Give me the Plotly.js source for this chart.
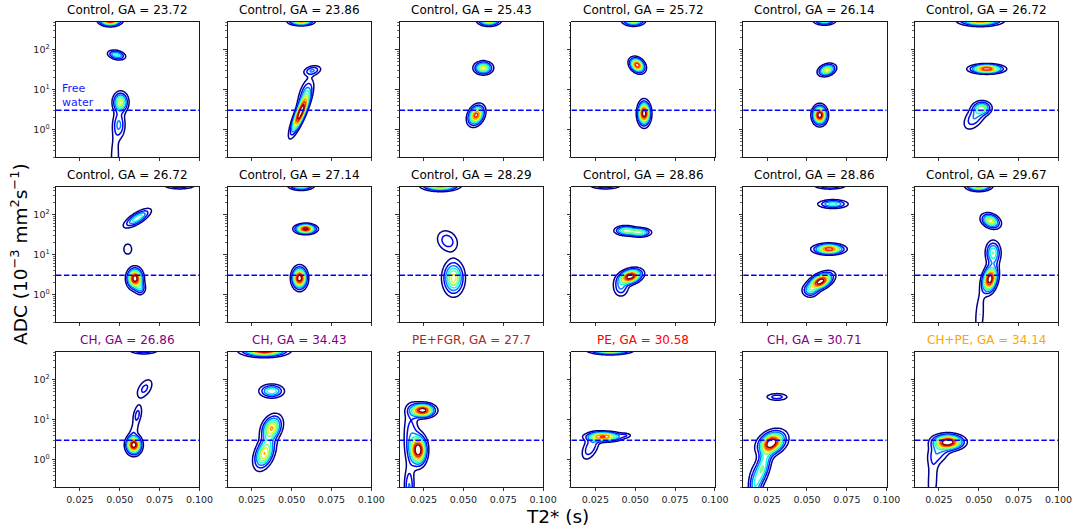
<!DOCTYPE html>
<html>
<head>
<meta charset="utf-8">
<script src="https://cdn.plot.ly/plotly-3.0.1.min.js"></script>
<style>html,body{margin:0;padding:0;background:#fff;}#chart{width:1083px;height:531px;}</style>
</head>
<body>
<div id="chart"></div>
<script>
// ---------- Data ----------
const panelTitles = [
  "Control, GA = 23.72","Control, GA = 23.86","Control, GA = 25.43","Control, GA = 25.72","Control, GA = 26.14","Control, GA = 26.72",
  "Control, GA = 26.72","Control, GA = 27.14","Control, GA = 28.29","Control, GA = 28.86","Control, GA = 28.86","Control, GA = 29.67",
  "CH, GA = 26.86","CH, GA = 34.43","PE+FGR, GA = 27.7","PE, GA = 30.58","CH, GA = 30.71","CH+PE, GA = 34.14"
];
const panelTitleColors = [
  "#000000","#000000","#000000","#000000","#000000","#000000",
  "#000000","#000000","#000000","#000000","#000000","#000000",
  "#800080","#800080","#a52a2a","#ff0000","#800080","#ffa500"
];
const freeWaterADC = 3;               // 10^-3 mm^2/s
const t2Range = [0.01, 0.1];          // s
const adcRange = [0.2, 500];
const t2Ticks = [0.025, 0.05, 0.075, 0.1];
const t2TickLabels = ["0.025", "0.050", "0.075", "0.100"];
const adcTicks = [1, 10, 100];
const adcTickLabels = ["10<sup>0</sup>", "10<sup>1</sup>", "10<sup>2</sup>"];
const adcMinorTicks = [0.2,0.3,0.4,0.5,0.6,0.7,0.8,0.9,2,3,4,5,6,7,8,9,20,30,40,50,60,70,80,90,200,300,400,500];
const contourLevels = {start: 0.1, end: 0.9, size: 0.1};

// Spectral peaks (T2*-ADC components) estimated per panel
const peakPanel = [
  0,0,0,0,0,
  1,1,1,1,
  2,2,2,
  3,3,3,
  4,4,4,
  5,5,5,5,
  6,6,6,6,6,
  7,7,7,
  8,8,8,
  9,9,9,9,9,
  10,10,10,10,10,
  11,11,11,11,11,
  12,12,12,12,12,
  13,13,13,13,
  14,14,14,14,
  15,15,15,15,
  16,16,16,16,
  17,17,17
];
const peakT2 = [
  0.044,0.048,0.0505,0.0495,0.047,
  0.056,0.0555,0.0585,0.063,
  0.066,0.0625,0.058,
  0.049,0.0513,0.0556,
  0.061,0.0625,0.058,
  0.051,0.055,0.052,0.0475,
  0.0875,0.061,0.055,0.0595,0.063,
  0.056,0.0588,0.055,
  0.0356,0.040,0.0438,
  0.0313,0.044,0.053,0.047,0.041,
  0.0644,0.0663,0.0638,0.0585,0.052,
  0.050,0.0575,0.057,0.059,0.0505,
  0.065,0.0656,0.061,0.0588,0.059,
  0.033,0.0375,0.0375,0.0330,
  0.0244,0.0219,0.017,0.016,
  0.0344,0.0305,0.022,0.044,
  0.0312,0.028,0.022,0.017,
  0.031,0.021,0.025
];
const peakADC = [
  557,74,4.8,1.3,0.2,
  525,2.5,8,30,
  557,35,2.25,
  557,41,2.5,
  557,31,2.27,
  557,33,3.4,2.0,
  557,82,13.7,2.5,1.4,
  557,44,2.55,
  557,22,2.55,
  557,40,36,2.8,1.5,
  557,186,13.7,2.1,1.2,
  557,70,2.4,11,0.3,
  557,60,13,2.3,5.5,
  557,52,6.1,1.4,
  17,1.7,4,0.2,
  557,3.7,2.0,4.0,
  37,2.6,0.6,0.2,
  2.7,0.3,1.5
];
const peakSdT2 = [
  0.0039,0.0033,0.0028,0.0025,0.002,
  0.0045,0.0035,0.003,0.0035,
  0.004,0.0034,0.003,
  0.004,0.0028,0.0023,
  0.004,0.0032,0.0026,
  0.0075,0.006,0.0035,0.0045,
  0.006,0.005,0.0025,0.0028,0.002,
  0.0045,0.0038,0.0027,
  0.0065,0.0044,0.0039,
  0.006,0.004,0.004,0.0042,0.003,
  0.006,0.0055,0.0055,0.0045,0.003,
  0.0045,0.0035,0.0028,0.0028,0.002,
  0.0055,0.0035,0.002,0.0028,0.002,
  0.008,0.0045,0.0038,0.0038,
  0.0045,0.003,0.003,0.002,
  0.0075,0.0065,0.0035,0.0025,
  0.0045,0.005,0.0035,0.0025,
  0.0055,0.0025,0.0045
];
const peakSdLogADC = [
  0.08,0.073,0.15,0.22,0.4,
  0.06,0.3,0.25,0.08,
  0.08,0.095,0.15,
  0.08,0.11,0.176,
  0.07,0.09,0.14,
  0.08,0.066,0.1,0.2,
  0.06,0.14,0.13,0.15,0.1,
  0.07,0.07,0.16,
  0.08,0.18,0.25,
  0.06,0.07,0.065,0.11,0.15,
  0.06,0.065,0.075,0.13,0.1,
  0.08,0.11,0.2,0.18,0.4,
  0.06,0.17,0.18,0.14,0.12,
  0.09,0.1,0.19,0.23,
  0.1,0.22,0.5,0.3,
  0.06,0.07,0.2,0.04,
  0.06,0.17,0.32,0.3,
  0.11,0.5,0.2
];
const peakRho = [
  0,-0.3,0,0,0,
  0,0.85,0.6,0.3,
  0,0,0.3,
  0,-0.3,0,
  0,0.3,0,
  0,0,0,0.5,
  0,0.75,0,0,0,
  0,0,0,
  0,-0.2,0,
  0,0,0,0.3,0,
  0,0,0,0.5,0,
  0,-0.3,0.3,0,0.3,
  0,0.5,0.4,0,0.3,
  0,0,0.3,0.4,
  0,0,0,0,
  0,0,0.5,0,
  0,0.3,0.6,0,
  0,0.2,0.3
];
const peakAmp = [
  1.0,0.45,0.62,0.32,0.18,
  0.75,1.0,0.3,0.3,
  0.75,0.65,0.85,
  0.7,0.88,1.0,
  0.55,0.65,1.0,
  0.85,0.9,0.45,0.3,
  0.35,0.48,0.16,1.0,0.3,
  0.65,0.95,1.0,
  0.85,0.27,0.65,
  0.35,0.55,0.55,1.0,0.3,
  0.4,0.45,0.88,1.0,0.3,
  0.85,0.65,1.0,0.5,0.2,
  0.35,0.23,0.24,1.0,0.12,
  1.0,0.5,0.7,0.7,
  1.0,1.0,0.25,0.3,
  0.75,0.8,0.3,0.14,
  0.26,1.0,0.5,0.25,
  1.0,0.17,0.25
];

// ---------- Figure construction ----------
const W = 1083, H = 531;
const colLeft0 = 56, colStep = 171.8, plotW = 143.5;
const rowTop0 = 22, rowStep = 165, plotH = 135;

// matplotlib "jet"
const jet = [
  [0, "rgb(0,0,128)"], [0.11, "rgb(0,0,255)"], [0.125, "rgb(0,0,255)"],
  [0.34, "rgb(0,219,255)"], [0.35, "rgb(0,229,246)"], [0.375, "rgb(20,255,226)"],
  [0.64, "rgb(238,255,8)"], [0.66, "rgb(255,236,0)"], [0.89, "rgb(255,19,0)"],
  [0.91, "rgb(232,0,0)"], [1, "rgb(128,0,0)"]
];

// grid
const gx = [], gly = [], gy = [];
for (let v = 0.0; v <= 0.1101; v += 0.0005) gx.push(+v.toFixed(5));
for (let v = -1.2; v <= 3.2001; v += 0.02) { gly.push(v); gy.push(Math.pow(10, v)); }

function panelZ(p) {
  const idx = [];
  for (let k = 0; k < peakPanel.length; k++) if (peakPanel[k] === p) idx.push(k);
  const z = [];
  for (let j = 0; j < gly.length; j++) {
    const row = new Array(gx.length).fill(0);
    for (const k of idx) {
      const cx = peakT2[k], cy = Math.log10(peakADC[k]);
      const sx = peakSdT2[k], sy = peakSdLogADC[k], r = peakRho[k], a = peakAmp[k];
      const dy = (gly[j] - cy) / sy;
      for (let i = 0; i < gx.length; i++) {
        const dx = (gx[i] - cx) / sx;
        const q = (dx * dx - 2 * r * dx * dy + dy * dy) / (1 - r * r);
        row[i] += a * Math.exp(-0.5 * q);
      }
    }
    z.push(row);
  }
  return z;
}

const data = [];
const layout = {
  width: W, height: H,
  margin: {l: 0, r: 0, t: 0, b: 0},
  paper_bgcolor: "#fff", plot_bgcolor: "#fff",
  showlegend: false,
  font: {family: "DejaVu Sans, sans-serif", color: "#222"},
  annotations: []
};

for (let p = 0; p < 18; p++) {
  const r = Math.floor(p / 6), c = p % 6;
  const L = colLeft0 + colStep * c, T = rowTop0 + rowStep * r;
  const xs = p === 0 ? "" : String(p + 1);
  const xa = "x" + xs, ya = "y" + xs;

  data.push({
    type: "contour", x: gx, y: gy, z: panelZ(p),
    xaxis: xa, yaxis: ya,
    autocontour: false,
    contours: {start: contourLevels.start, end: contourLevels.end, size: contourLevels.size, coloring: "lines"},
    colorscale: jet, showscale: false,
    line: {width: 1.5, smoothing: 1},
    hoverinfo: "skip"
  });
  data.push({
    type: "scatter", mode: "lines",
    x: t2Range, y: [freeWaterADC, freeWaterADC],
    xaxis: xa, yaxis: ya,
    line: {color: "#0000ff", width: 1.5, dash: "5.5px,2.4px"},
    hoverinfo: "skip"
  });

  layout["xaxis" + xs] = {
    domain: [L / W, (L + plotW) / W],
    anchor: ya, range: t2Range,
    tickmode: "array", tickvals: t2Ticks, ticktext: t2TickLabels,
    showticklabels: r === 2,
    ticks: "outside", ticklen: 3.5, tickwidth: 0.8, tickcolor: "#000",
    tickfont: {size: 9.5, color: "#222"},
    showline: true, mirror: true, linecolor: "#000", linewidth: 0.9,
    showgrid: false, zeroline: false, fixedrange: true
  };
  layout["yaxis" + xs] = {
    domain: [1 - (T + plotH) / H, 1 - T / H],
    anchor: xa, type: "log",
    range: [Math.log10(adcRange[0]), Math.log10(adcRange[1])],
    tickmode: "array", tickvals: adcTicks, ticktext: adcTickLabels,
    showticklabels: c === 0,
    ticks: "outside", ticklen: 3.5, tickwidth: 0.8, tickcolor: "#000",
    tickfont: {size: 9.5, color: "#222"},
    minor: {tickmode: "array", tickvals: adcMinorTicks, ticks: "outside", ticklen: 2, tickwidth: 0.6, tickcolor: "#000", showgrid: false},
    showline: true, mirror: true, linecolor: "#000", linewidth: 0.9,
    showgrid: false, zeroline: false, fixedrange: true
  };
  layout.annotations.push({
    xref: "paper", yref: "paper",
    x: (L + plotW / 2) / W, y: 1 - (T - 3) / H,
    xanchor: "center", yanchor: "bottom",
    text: panelTitles[p], showarrow: false,
    font: {size: 12, color: panelTitleColors[p]}
  });
}

layout.annotations.push({
  xref: "x", yref: "y", x: 0.0125, y: Math.log10(7.2),
  xanchor: "left", yanchor: "middle", align: "left",
  text: "Free<br>water", showarrow: false,
  font: {size: 11, color: "#1a1aff"}
});
layout.annotations.push({
  xref: "paper", yref: "paper", x: 557 / W, y: 1 - 516 / H,
  xanchor: "center", yanchor: "middle",
  text: "T2* (s)", showarrow: false,
  font: {size: 18.5, color: "#000"}
});
layout.annotations.push({
  xref: "paper", yref: "paper", x: 19 / W, y: 1 - 254 / H,
  xanchor: "center", yanchor: "middle", textangle: -90,
  text: "ADC (10<sup>\u22123</sup> mm<sup>2</sup>s<sup>\u22121</sup>)", showarrow: false,
  font: {size: 18.5, color: "#000"}
});

Plotly.newPlot("chart", data, layout, {staticPlot: true, displayModeBar: false});
</script>
</body>
</html>
